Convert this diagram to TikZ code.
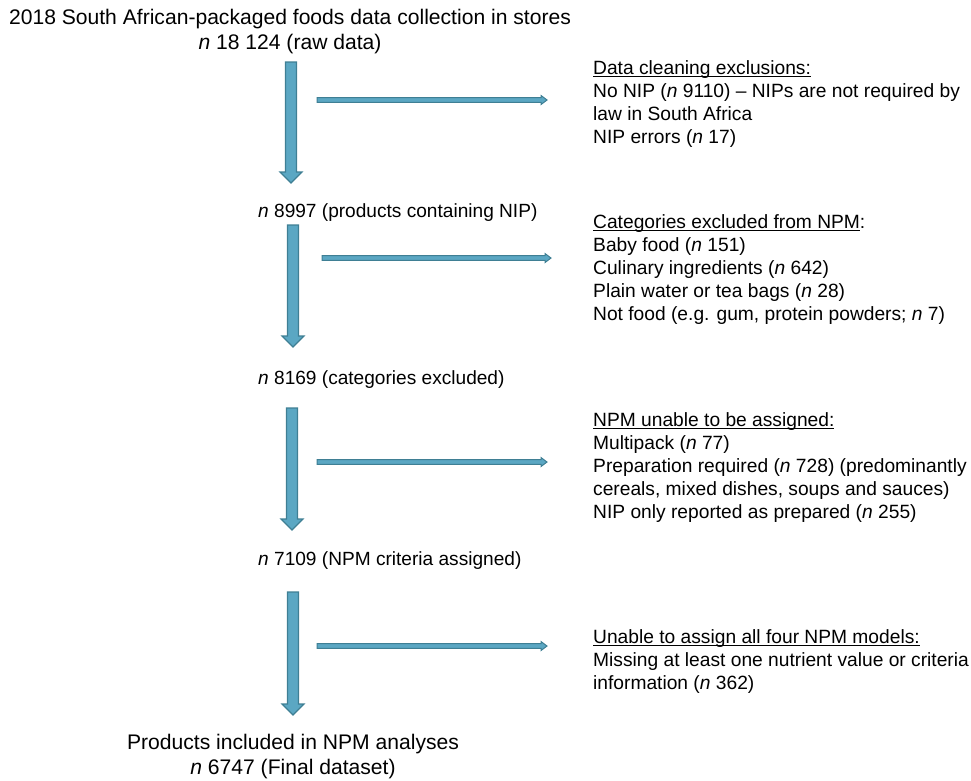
\documentclass[tikz,border=0pt]{standalone}
\usepackage{fontspec}
\setmainfont{Liberation Sans}
\usetikzlibrary{calc}
\definecolor{arrowfill}{HTML}{5BA7C3}
\definecolor{arrowline}{HTML}{3F7F94}
\newcommand{\headline}[1]{\setbox0\hbox{#1}\rlap{\rule[-2.4pt]{\wd0}{0.9pt}}\box0}
\newcommand{\stageArrow}[2]{%
  \draw[stage arrow] ($(#1)+(-5.5,0)$) -- ($(#2)+(-5.5,-11)$) -- ($(#2)+(-11,-11)$) -- (#2)
    -- ($(#2)+(11,-11)$) -- ($(#2)+(5.5,-11)$) -- ($(#1)+(5.5,0)$) -- cycle;}
\newcommand{\exclArrow}[2]{%
  \draw[excl arrow] ($(#1)+(0,-2.3)$) -- ($(#2)+(-6,-2.3)$) -- ($(#2)+(-6,-4.5)$) -- (#2)
    -- ($(#2)+(-6,4.5)$) -- ($(#2)+(-6,2.3)$) -- ($(#1)+(0,2.3)$) -- cycle;}

\begin{document}
\begin{tikzpicture}[x=1pt, y=-1pt]
  \tikzset{stage/.style={inner sep=0pt, font=\fontsize{19.1}{23}\selectfont},
    big/.style={inner sep=0pt, align=center, font=\fontsize{21.1}{25}\selectfont},
    excl/.style={inner sep=0pt, align=left, anchor=north west, font=\fontsize{19.2}{23}\selectfont},
    stage arrow/.style={draw=arrowline, fill=arrowfill, line width=1.1pt, line join=miter},
    excl arrow/.style={draw=arrowline, fill=arrowfill, line width=1pt, line join=miter}}
  \useasboundingbox (0,0) rectangle (971,780);

  \node[big] (raw) at (290,32) {2018 South African-packaged foods data collection in stores\\\textit{n} 18 124 (raw data)};
  \node[stage, anchor=west] (nip) at (258,213) {\textit{n} 8997 (products containing NIP)};
  \node[stage, anchor=west] (cat) at (258,380) {\textit{n} 8169 (categories excluded)};
  \node[stage, anchor=west] (crit) at (258,561) {\textit{n} 7109 (NPM criteria assigned)};
  \node[big] (final) at (293,756.5) {Products included in NPM analyses\\\textit{n} 6747 (Final dataset)};

  \node[excl] (clean) at (593,60) {\headline{Data cleaning exclusions:}\\No NIP (\textit{n} 9110) -- NIPs are not required by\\law in South Africa\\NIP errors (\textit{n} 17)};
  \node[excl] (catx) at (593,214) {\headline{Categories excluded from NPM}:\\Baby food (\textit{n} 151)\\Culinary ingredients (\textit{n} 642)\\Plain water or tea bags (\textit{n} 28)\\Not food (e.g. gum, protein powders; \textit{n} 7)};
  \node[excl] (unas) at (593,412) {\headline{NPM unable to be assigned:}\\Multipack (\textit{n} 77)\\Preparation required (\textit{n} 728) (predominantly\\cereals, mixed dishes, soups and sauces)\\NIP only reported as prepared (\textit{n} 255)};
  \node[excl] (four) at (593,629) {\headline{Unable to assign all four NPM models:}\\Missing at least one nutrient value or criteria\\information (\textit{n} 362)};

  \coordinate (d1a) at (291,62);  \coordinate (d1b) at (291,183);
  \coordinate (d2a) at (293,225); \coordinate (d2b) at (293,347);
  \coordinate (d3a) at (292,408); \coordinate (d3b) at (292,530);
  \coordinate (d4a) at (293,592); \coordinate (d4b) at (293,715);
  \coordinate (h1a) at (317,100); \coordinate (h1b) at (547,100);
  \coordinate (h2a) at (322,258); \coordinate (h2b) at (551,258);
  \coordinate (h3a) at (317,462); \coordinate (h3b) at (547,462);
  \coordinate (h4a) at (317,646); \coordinate (h4b) at (547,646);

  \stageArrow{d1a}{d1b}
  \stageArrow{d2a}{d2b}
  \stageArrow{d3a}{d3b}
  \stageArrow{d4a}{d4b}
  \exclArrow{h1a}{h1b}
  \exclArrow{h2a}{h2b}
  \exclArrow{h3a}{h3b}
  \exclArrow{h4a}{h4b}
\end{tikzpicture}
\end{document}
